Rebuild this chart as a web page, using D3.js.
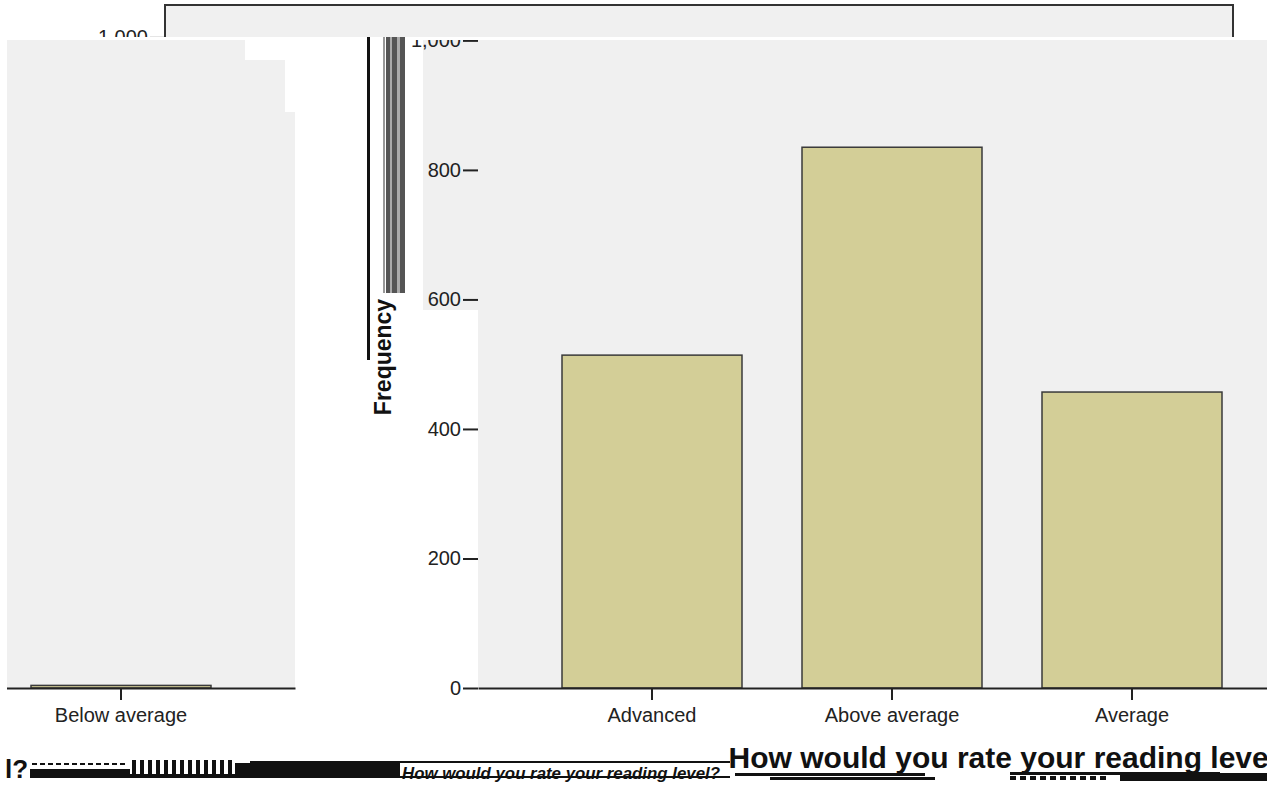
<!DOCTYPE html>
<html>
<head>
<meta charset="utf-8">
<script src="https://cdn.jsdelivr.net/npm/d3@7"></script>
<style>
  html, body { margin: 0; padding: 0; background: #ffffff; }
  svg { display: block; }
  text { font-family: "Liberation Sans", Arial, sans-serif; }
</style>
</head>
<body>
<svg id="chart" width="1267" height="786"></svg>
<script>
const categories = ["Advanced", "Above average", "Average", "Below average"];
const frequencies = [514, 835, 457, 4];
const yTickValues = [0, 200, 400, 600, 800, 1000];
const yAxisTitle = "Frequency";
const xAxisTitle = "How would you rate your reading level?";

const W = 1267, H = 786;
const svg = d3.select("#chart");
const defs = svg.append("defs");

const x = d3.scaleBand().domain(categories).range([478, 1546])
  .paddingInner(0.25).paddingOuter(0.35);
const y = d3.scaleLinear().domain([0, 1050]).range([688, 8]);

function clip(id, pts) {
  defs.append("clipPath").attr("id", id)
    .append("polygon").attr("points", pts.map(p => p.join(",")).join(" "));
  return "url(#" + id + ")";
}

function drawChart(g, withFrame) {
  const fontFam = "'Liberation Sans', Arial, sans-serif";
  g.append("rect")
    .attr("x", x.range()[0]).attr("y", y.range()[1])
    .attr("width", x.range()[1] - x.range()[0])
    .attr("height", y.range()[0] - y.range()[1])
    .attr("fill", "#f0f0f0");

  if (withFrame) {
    g.append("path")
      .attr("d", `M${x.range()[0]},${y.range()[0]}V${y.range()[1]}H${x.range()[1]}V${y.range()[0]}`)
      .attr("fill", "none").attr("stroke", "#333").attr("stroke-width", 2);
  }

  g.selectAll("rect.bar").data(categories.map((c, i) => ({c, v: frequencies[i]})))
    .join("rect").attr("class", "bar")
    .attr("x", d => x(d.c)).attr("width", x.bandwidth())
    .attr("y", d => y(d.v)).attr("height", d => y(0) - y(d.v))
    .attr("fill", "#d3ce97").attr("stroke", "#3a3a3a").attr("stroke-width", 1.5);

  const ya = g.append("g").attr("transform", `translate(${x.range()[0]},0)`)
    .call(d3.axisLeft(y).tickValues(yTickValues).tickFormat(d3.format(","))
      .tickSize(15).tickPadding(2));
  ya.select(".domain").remove();
  ya.selectAll(".tick line").attr("stroke", "#222").attr("stroke-width", 2);
  ya.selectAll(".tick text").attr("font-size", 20).attr("fill", "#222")
    .style("font-family", fontFam);

  const xa = g.append("g").attr("transform", `translate(0,${y(0)})`)
    .call(d3.axisBottom(x).tickSize(12).tickSizeOuter(0).tickPadding(8));
  xa.select(".domain").attr("stroke", "#222").attr("stroke-width", 2);
  xa.selectAll(".tick line").attr("stroke", "#222").attr("stroke-width", 2);
  xa.selectAll(".tick text").attr("font-size", 20).attr("fill", "#222")
    .style("font-family", fontFam);

  g.append("text")
    .attr("transform", `translate(391,357) rotate(-90)`)
    .attr("text-anchor", "middle")
    .attr("font-size", 23).attr("font-weight", "bold").attr("fill", "#111")
    .text(yAxisTitle);

  g.append("text")
    .attr("x", (x.range()[0] + x.range()[1]) / 2).attr("y", 768)
    .attr("text-anchor", "middle")
    .attr("font-size", 30).attr("font-weight", "bold").attr("fill", "#111")
    .text(xAxisTitle);
}

// glitch grey patch left of main plot
svg.append("rect").attr("x", 423).attr("y", 40).attr("width", 56).attr("height", 270)
  .attr("fill", "#f0f0f0");

// main copy
drawChart(svg.append("g").attr("clip-path", clip("cMain", [[300,40],[W,40],[W,H],[300,H]])), false);

// wrapped copy on the left
drawChart(svg.append("g").attr("clip-path", clip("cLeft",
  [[7,40],[245,40],[245,60],[285,60],[285,112],[300,112],[300,745],[7,745]]))
  .append("g").attr("transform", "translate(-1251,0)"), false);

// shifted strip at the top
drawChart(svg.append("g").attr("clip-path", clip("cTop", [[90,0],[W,0],[W,37],[90,37]]))
  .append("g").attr("transform", "translate(-313,-3)"), true);

// vertical glitch lines
const gl = svg.append("g");
gl.append("rect").attr("x", 367).attr("y", 37).attr("width", 3).attr("height", 323).attr("fill", "#111");
[[383, 2, "#999"], [386, 4, "#555"], [390, 2, "#aaa"], [392, 5, "#555"], [397, 3, "#aaa"], [400, 5, "#555"]]
  .forEach(([xx, w, c]) => gl.append("rect").attr("x", xx).attr("y", 37).attr("width", w)
    .attr("height", 256).attr("fill", c));

// bottom glitch band
const gb = svg.append("g");
gb.append("text").attr("x", 5).attr("y", 778).attr("font-size", 26).attr("font-weight", "bold")
  .attr("fill", "#111").text("l?");
gb.append("rect").attr("x", 30).attr("y", 769).attr("width", 100).attr("height", 9).attr("fill", "#111");
for (let i = 0; i < 12; i++) {
  gb.append("rect").attr("x", 32 + i * 8).attr("y", 763).attr("width", 5).attr("height", 2).attr("fill", "#111");
}
for (let i = 0; i < 13; i++) {
  gb.append("rect").attr("x", 132 + i * 8).attr("y", 760).attr("width", 4).attr("height", 18).attr("fill", "#111");
}
gb.append("rect").attr("x", 130).attr("y", 774).attr("width", 105).attr("height", 4).attr("fill", "#111");
gb.append("rect").attr("x", 235).attr("y", 763).attr("width", 165).attr("height", 15).attr("fill", "#111");
gb.append("rect").attr("x", 250).attr("y", 761).attr("width", 480).attr("height", 2).attr("fill", "#111");
gb.append("text").attr("x", 402).attr("y", 779).attr("font-size", 16).attr("font-weight", "bold")
  .attr("font-style", "italic").attr("fill", "#111").attr("textLength", 318)
  .attr("lengthAdjust", "spacingAndGlyphs").text("How would you rate your reading level?");
gb.append("rect").attr("x", 400).attr("y", 776).attr("width", 330).attr("height", 2).attr("fill", "#111");
gb.append("rect").attr("x", 735).attr("y", 773).attr("width", 190).attr("height", 3).attr("fill", "#111");
gb.append("rect").attr("x", 770).attr("y", 777).attr("width", 165).attr("height", 3).attr("fill", "#111");
for (let i = 0; i < 10; i++) {
  gb.append("rect").attr("x", 1010 + i * 10).attr("y", 776).attr("width", 6).attr("height", 4).attr("fill", "#111");
}
gb.append("rect").attr("x", 1010).attr("y", 772).attr("width", 210).attr("height", 3).attr("fill", "#111");
gb.append("rect").attr("x", 1120).attr("y", 773).attr("width", 147).attr("height", 8).attr("fill", "#111");
</script>
</body>
</html>
